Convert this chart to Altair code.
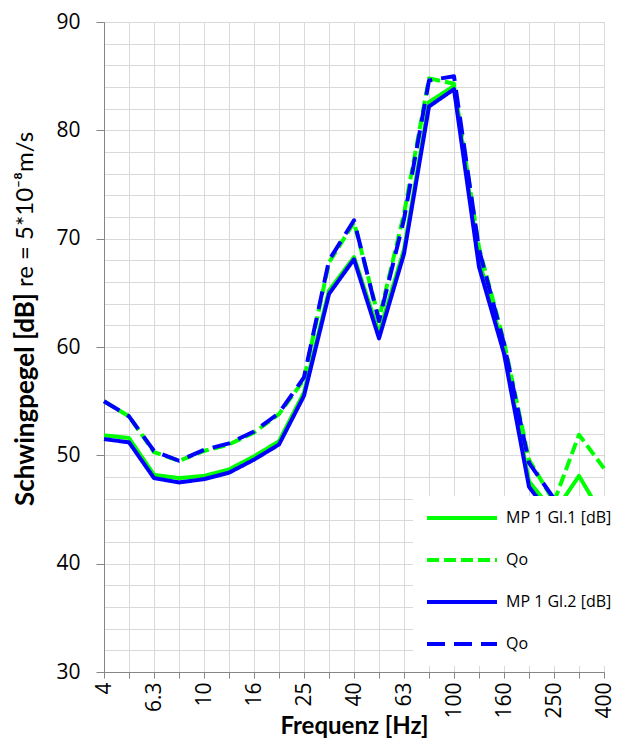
import altair as alt
import pandas as pd

# ---------------- data ----------------
freqs = ["4", "5", "6.3", "8", "10", "12.5", "16", "20", "25", "31.5", "40",
         "50", "63", "80", "100", "125", "160", "200", "250", "315", "400"]
shown_labels = ["4", "6.3", "10", "16", "25", "40", "63", "100", "160", "250", "400"]

mp1_gl1 = [51.85, 51.6, 48.2, 47.9, 48.1, 48.7, 49.9, 51.3, 55.8, 65.2, 68.3,
           61.3, 69.0, 82.6, 84.1, 68.0, 59.8, 47.6, 44.7, 48.1, 44.2]
qo_gl1 = [55.0, 53.6, 50.3, 49.5, 50.4, 51.0, 52.1, 53.8, 57.0, 67.8, 71.5,
          62.6, 72.3, 84.8, 84.3, 69.2, 60.5, 49.6, 45.7, 51.9, 48.8]
mp1_gl2 = [51.5, 51.2, 47.9, 47.5, 47.8, 48.4, 49.6, 51.0, 55.5, 64.9, 68.1,
           60.8, 68.6, 82.2, 83.8, 67.4, 59.4, 47.1, 44.0, 43.0, 42.0]
qo_gl2 = [55.0, 53.6, 50.4, 49.5, 50.5, 51.1, 52.2, 53.9, 57.2, 68.0, 71.7,
          62.4, 71.8, 84.6, 85.0, 69.0, 60.3, 49.3, 46.0, 44.5, 43.5]

series_names = ["MP 1 Gl.1 [dB]", "Qo", "MP 1 Gl.2 [dB]", "Qo "]
series_colors = ["#00ff00", "#00ff00", "#0000ff", "#0000ff"]
series_dashes = [[1, 0], [12, 5], [1, 0], [18, 9]]

y_major = [30, 40, 50, 60, 70, 80, 90]
y_minor = list(range(30, 91, 2))

x_title = "Frequenz [Hz]"
y_title_bold = "Schwingpegel [dB]"
y_title_rest = "re = 5*10\u207b\u2078m/s"

# ---------------- table ----------------
rows = []
for name, vals in zip(series_names, [mp1_gl1, qo_gl1, mp1_gl2, qo_gl2]):
    for f, v in zip(freqs, vals):
        rows.append({"freq": f, "value": v, "series": name})
df = pd.DataFrame(rows)

label_list = "[" + ",".join("'" + s + "'" for s in shown_labels) + "]"

x_enc = alt.X(
    "freq:N", sort=freqs,
    scale=alt.Scale(type="point", padding=0),
    title=x_title,
    axis=alt.Axis(
        labelAngle=-90,
        labelExpr=f"indexof({label_list}, datum.value) >= 0 ? datum.label : ''",
        grid=True, gridColor="#d9d9d9", gridWidth=1,
        ticks=True, tickColor="#868686", tickSize=6,
        domainColor="#868686",
        labelFont="Open Sans", labelFontSize=21, labelColor="#000000",
        labelPadding=4, labelOverlap=False,
        titleFont="Lato", titleFontSize=24, titleFontWeight="bold",
        titleColor="#000000", titleBaseline="alphabetic", titleY=61,
    ),
)

y_scale = alt.Scale(domain=[30, 90], nice=False, zero=False)

legend = alt.Legend(
    title=None, orient="none", legendX=309, legendY=474,
    fillColor="white", padding=12, rowPadding=22,
    symbolType="stroke", symbolSize=4900, symbolStrokeWidth=4,
    labelFont="Open Sans", labelFontSize=16, labelColor="#000000",
    labelOffset=7, clipHeight=20, zindex=1, labelLimit=220,
)

lines = alt.Chart(df).mark_line(strokeWidth=4, strokeJoin="round").encode(
    x=x_enc,
    y=alt.Y("value:Q", scale=y_scale, title=None,
            axis=alt.Axis(orient="left", values=y_minor, grid=True,
                          gridColor="#d9d9d9", labels=False, ticks=False,
                          domain=False)),
    color=alt.Color("series:N", sort=series_names,
                    scale=alt.Scale(domain=series_names, range=series_colors),
                    legend=legend),
    strokeDash=alt.StrokeDash("series:N", sort=series_names,
                              scale=alt.Scale(domain=series_names, range=series_dashes),
                              legend=legend),
    order=alt.Order("freq_idx:Q"),
).transform_calculate(
    freq_idx=f"indexof({'[' + ','.join(repr(f) for f in freqs) + ']'}, datum.freq)"
)

major = alt.Chart(df).mark_point(opacity=0).encode(
    x=x_enc,
    y=alt.Y("value:Q", scale=y_scale, title=None,
            axis=alt.Axis(orient="left", values=y_major, grid=True,
                          gridColor="#a6a6a6", tickColor="#868686", tickSize=8,
                          domainColor="#868686",
                          labelFont="Open Sans", labelFontSize=21,
                          labelColor="#000000", labelPadding=16)),
)

t_bold = alt.Chart(pd.DataFrame({"t": [y_title_bold]})).mark_text(
    angle=270, align="right", baseline="middle", font="Lato", fontSize=26,
    fontWeight="bold", color="#000000"
).encode(text="t:N", x=alt.value(-78), y=alt.value(271))

t_rest = alt.Chart(pd.DataFrame({"t": [y_title_rest]})).mark_text(
    angle=270, align="left", baseline="middle", font="Lato", fontSize=24,
    fontWeight="normal", color="#000000"
).encode(text="t:N", x=alt.value(-78), y=alt.value(265))

chart = alt.layer(major, lines, t_bold, t_rest).resolve_axis(
    y="independent"
).properties(
    width=500, height=650,
    padding={"left": 96, "top": 14, "right": 12, "bottom": 67},
    autosize=alt.AutoSizeParams(type="none"),
    background="white",
).configure_view(stroke=None)

chart.save("out.html", embed_options={"renderer": "svg", "actions": False})
